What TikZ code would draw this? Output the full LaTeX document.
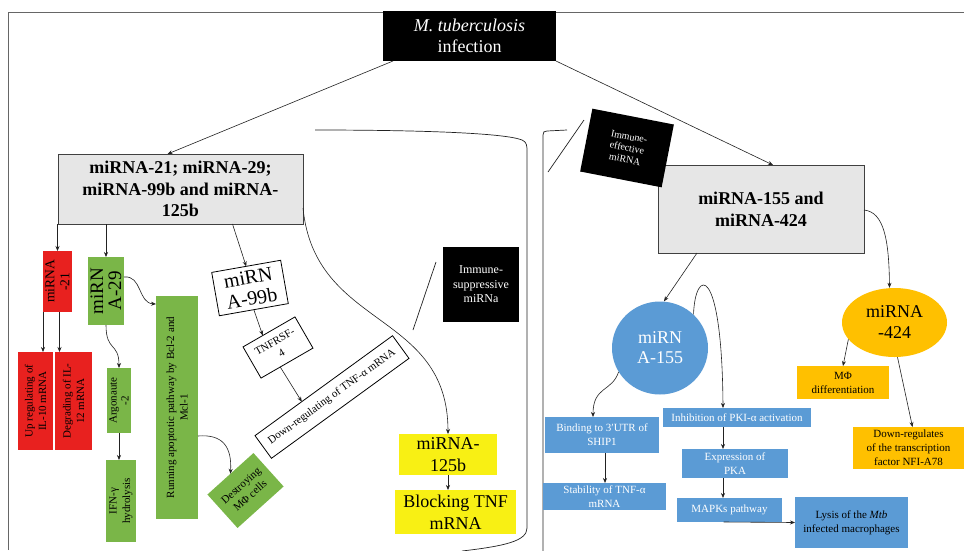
\documentclass[tikz,border=0pt]{standalone}
\usepackage{fontspec}
\setmainfont{Liberation Serif}
\usetikzlibrary{arrows.meta,shapes.geometric,calc}
\definecolor{cred}{HTML}{E8211F}
\definecolor{cgreen}{HTML}{7AB648}
\definecolor{cblue}{HTML}{5B9BD5}
\definecolor{corange}{HTML}{FFC000}
\definecolor{cyellow}{HTML}{F8F014}
\definecolor{cgray}{HTML}{E6E6E6}
\definecolor{cgrayline}{HTML}{404040}
\definecolor{linec}{HTML}{222222}
\begin{document}
\begin{tikzpicture}[x=1pt,y=-1pt,
  arr/.style={-{Stealth[length=5pt,width=4pt]}, line width=0.6pt, draw=linec},
  ln/.style={line width=0.7pt, draw=linec},
  bx/.style={inner sep=1pt, outer sep=0pt, align=center},
  sm/.style={font=\fontsize{11}{13.5}\selectfont},
  bg/.style={font=\fontsize{18}{21.5}\selectfont},
  bb/.style={font=\fontsize{18}{21.5}\selectfont\bfseries},
  blackbox/.style={bx, fill=black, text=white},
  graybox/.style={bx, fill=cgray, draw=cgrayline, line width=0.8pt, bb},
  redbox/.style={bx, fill=cred, text=black},
  greenbox/.style={bx, fill=cgreen, text=black},
  bluebox/.style={bx, fill=cblue, text=white, font=\fontsize{11}{14}\selectfont},
  orangebox/.style={bx, fill=corange, text=black, font=\fontsize{11}{14}\selectfont},
  yellowbox/.style={bx, fill=cyellow, text=black, bg},
  whitebox/.style={bx, fill=white, draw=black, line width=0.8pt},
  vert/.style={rotate=90},
  sz/.style 2 args={minimum width=#1, minimum height=#2},
]
\useasboundingbox[fill=white] (0,0) rectangle (964,550);

% frame and brackets
\draw[line width=0.8pt, draw=gray!80!black] (8,550) -- (8,12) -- (964,12);
\draw[ln] (315,130) .. controls (420,130) and (505,133) .. (522,140)
          .. controls (527,142) and (527,146) .. (527,152) -- (527,528)
          .. controls (527,541) and (505,546) .. (462,551);
\draw[ln] (567,130) -- (547,131) .. controls (544,131) and (543,132) .. (543,135) -- (543,551);
\draw[ln] (584,120) -- (548,172);
\draw[ln] (436,262) -- (413,330);

% top
\node[blackbox, sz={173pt}{50pt}, font=\fontsize{18}{21.5}\selectfont] (T) at (469.5,36) {\textit{M. tuberculosis}\\infection};

% big boxes
\node[graybox, sz={245pt}{70pt}] (L) at (180.5,189) {miRNA-21; miRNA-29;\\miRNA-99b and miRNA-\\125b};
\node[graybox, sz={206pt}{88pt}] (R) at (761,209) {miRNA-155 and\\miRNA-424};

% labels
\node[blackbox, sz={83pt}{64pt}, rotate=-11, font=\fontsize{10}{11.5}\selectfont] (IE) at (627,148) {Immune-\\effective\\miRNA};
\node[blackbox, sz={76pt}{75pt}, font=\fontsize{12}{14.5}\selectfont] (IS) at (481,284.5) {Immune-\\suppressive\\miRNa};

% left branch
\node[redbox, vert, sz={61pt}{29pt}, font=\fontsize{13.5}{15}\selectfont] (r21) at (57.5,281.5) {miRNA\\-21};
\node[greenbox, vert, sz={68pt}{36pt}, font=\fontsize{19}{18}\selectfont] (r29) at (106,291) {miRN\\A-29};
\node[redbox, vert, sz={98pt}{35pt}, sm] (up) at (35.5,401) {Up regulating of\\IL-10 mRNA};
\node[redbox, vert, sz={98pt}{37pt}, sm] (deg) at (73.5,401) {Degrading of IL-\\12 mRNA};
\node[greenbox, vert, sz={65pt}{24pt}, font=\fontsize{11}{12}\selectfont] (arg) at (119,400.5) {Argonaute\\-2};
\node[greenbox, vert, sz={82pt}{30pt}, sm] (ifn) at (121,501) {IFN-γ\\hydrolysis};
\node[greenbox, vert, sz={223pt}{42pt}, sm] (run) at (177,407.5) {Running apoptotic pathway by Bcl-2 and\\Mcl-1};
\node[greenbox, rotate=42, sz={62pt}{45pt}, sm] (des) at (245.5,490.5) {Destroying\\MΦ cells};
\node[whitebox, rotate=10, sz={70pt}{44pt}, font=\fontsize{20}{21.5}\selectfont] (m99) at (250,288) {miRN\\A-99b};
\node[whitebox, rotate=30, sz={60pt}{36pt}, sm] (tnf) at (278,347.5) {TNFRSF-\\4};
\node[whitebox, rotate=36, sz={170pt}{28pt}, sm] (down) at (332,397) {Down-regulating of TNF-α mRNA};
\node[yellowbox, sz={98pt}{41pt}] (m125) at (448,454.5) {miRNA-\\125b};
\node[yellowbox, sz={121pt}{44pt}] (blk) at (455.5,512) {Blocking TNF\\mRNA};

% right branch
\node[ellipse, fill=cblue, text=white, inner sep=0pt, sz={96pt}{93pt}, align=center, font=\fontsize{18}{20}\selectfont] (e155) at (660,348) {miRN\\A-155};
\node[ellipse, fill=corange, text=black, inner sep=0pt, sz={105pt}{69pt}, align=center, font=\fontsize{18}{21}\selectfont] (e424) at (894.5,322.5) {miRNA\\-424};
\node[bluebox, sz={114pt}{36pt}] (bind) at (602,435) {Binding to 3′UTR of\\SHIP1};
\node[bluebox, sz={123pt}{27pt}] (stab) at (604.5,496.5) {Stability of TNF-α\\mRNA};
\node[bluebox, sz={148pt}{19pt}] (inh) at (737,417.5) {Inhibition of PKI-α activation};
\node[bluebox, sz={106pt}{29pt}] (exp) at (735,463.5) {Expression of\\PKA};
\node[bluebox, sz={105pt}{24pt}] (mapk) at (729.5,510) {MAPKs pathway};
\node[bluebox, sz={113pt}{51pt}, text=black] (lys) at (851.5,522.5) {Lysis of the \textit{Mtb}\\infected macrophages};
\node[orangebox, sz={92pt}{33pt}] (mphi) at (843,382.5) {MΦ\\differentiation};
\node[orangebox, sz={111pt}{42pt}] (dr) at (908.5,448) {Down-regulates\\of the transcription\\factor NFI-A78};

% connectors
\draw[arr] ([xshift=10pt]T.south west) -- ([xshift=-13pt]L.north);
\draw[arr] (T.south east) -- ([xshift=12pt]R.north);
\draw[arr] (L.south -| r21.center) -- (r21.east);
\draw[arr] (L.south -| r29.center) -- (r29.east);
\draw[arr] ([xshift=52pt]L.south) -- (m99.north);
\draw[arr] ([yshift=-19pt]L.east) .. controls (315,330) and (448,310) .. (m125.north);
\draw[arr] (r21.north west) -- (r21.north west |- up.east);
\draw[arr] ([xshift=2pt]r21.west) -- ([xshift=2pt]r21.west |- deg.east);
\draw[arr] (r29.west) .. controls (106,352) and (119,342) .. (arg.east);
\draw[arr] ([yshift=14pt]r29.south) .. controls (142,275) and (138,303) .. ([yshift=103.5pt]run.north);
\draw[arr] (arg.west) -- (arg.west |- ifn.east);
\draw[arr] ([yshift=-28.5pt]run.south) .. controls (222,434) and (232,446) .. (des.north);
\draw[arr] (m99.south) -- ($(tnf.north west)!0.38!(tnf.north east)$);
\draw[arr] ($(tnf.south west)!0.37!(tnf.south east)$) -- ($(down.north west)!0.34!(down.north east)$);
\draw[arr] (m125.south) -- (m125.south |- blk.north);

\draw[arr] ([xshift=-64pt]R.south) -- ([xshift=4pt]e155.north);
\draw[arr] (e155.45) .. controls (695,268) and (722,262) .. ([xshift=-14pt]inh.north);
\draw[arr] (e155.210) .. controls (612,392) and (593,386) .. ([xshift=-9pt]bind.north);
\draw[arr] ([xshift=3pt]bind.south) -- ([xshift=3pt]bind.south |- stab.north);
\draw[arr] ([xshift=-14pt]inh.south) -- ([xshift=-14pt]inh.south |- exp.north);
\draw[arr] ([xshift=-12pt]exp.south) -- ([xshift=-12pt]exp.south |- mapk.north);
\draw[arr] ([xshift=-6pt]mapk.south) -- (lys.west);
\draw[arr] ([yshift=-1pt]R.east) .. controls (884,212) and (889,240) .. ([xshift=-5pt]e424.north);
\draw[arr] (e424.200) -- (mphi.north);
\draw[arr] ([xshift=3pt]e424.south) -- ([xshift=4pt]dr.north);
\end{tikzpicture}
\end{document}
